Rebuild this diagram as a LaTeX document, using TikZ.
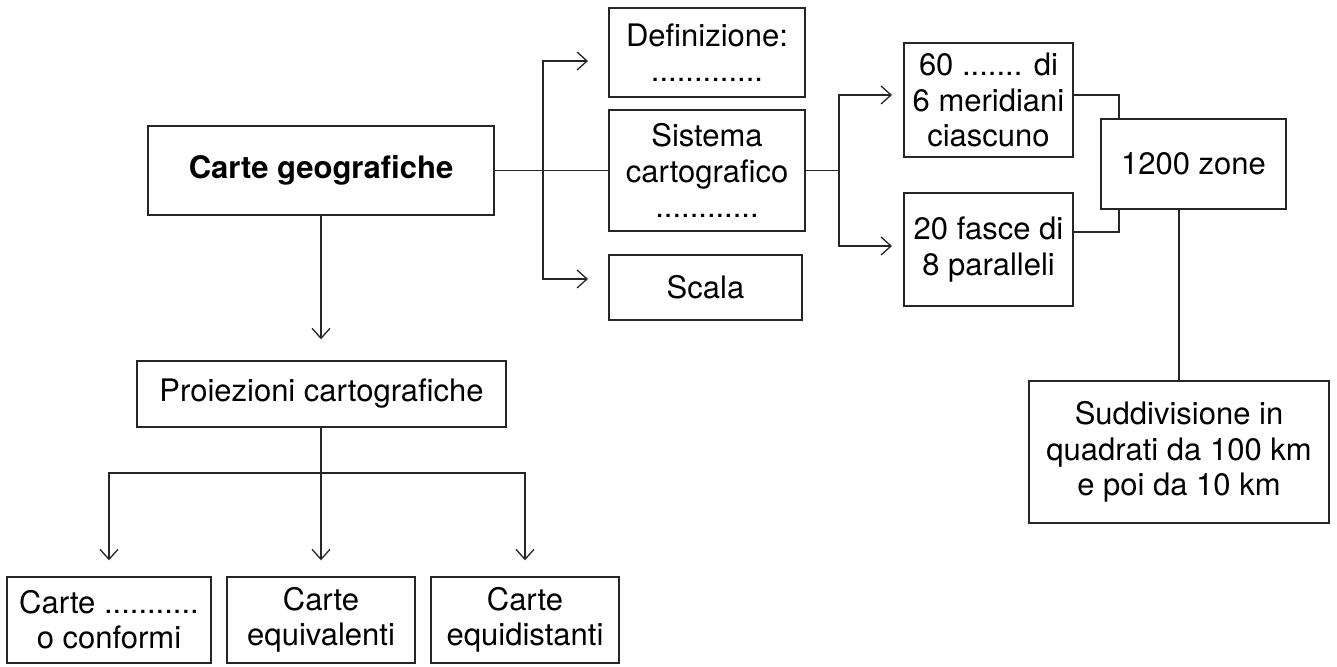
\documentclass[tikz,border=0pt]{standalone}
\usepackage{fontspec}
\setmainfont{TeX Gyre Heros}
\usepackage{tikz}
\usetikzlibrary{arrows.meta}

\begin{document}
\begin{tikzpicture}[x=0.5pt,y=-0.5pt,
		box/.style={shape=rectangle,draw=black!85,line width=0.7pt,inner sep=0pt,align=center,font=\fontsize{15.5}{17.6}\selectfont},
		link/.style={draw=black!85,line width=0.65pt},
		arr/.style={link,-{Straight Barb[length=5pt,width=9pt]}}]
		\useasboundingbox (0,0) rectangle (1337,667);
		% main box and the three things it is made of
		\node [box,minimum width=173pt,minimum height=44.5pt] (geo) at (321,170.5) {\bfseries Carte geografiche};
		\node [box,minimum width=98pt,minimum height=44.5pt] (defin) at (707,52.5) {Definizione:\\.............};
		\node [box,minimum width=98pt,minimum height=60.5pt] (sist) at (707,170.5) {Sistema\\cartografico\\............};
		\node [box,minimum width=96.5pt,minimum height=32.5pt] (scala) at (705.5,287.5) {Scala};
		\coordinate (j1) at (543,170.5);
		\coordinate (d-in) at (588,61);
		\coordinate (s-in) at (588,279);
		\draw [link] (geo) -- (sist);
		\draw [arr] (j1) |- (d-in);
		\draw [arr] (j1) |- (s-in);
		% grid of the cartographic system
		\node [box,minimum width=84.5pt,minimum height=57pt] (merid) at (988.5,100) {60 ....... di\\6 meridiani\\ciascuno};
		\node [box,minimum width=84.5pt,minimum height=56.5pt] (fasce) at (988.5,249.5) {20 fasce di\\8 paralleli};
		\node [box,minimum width=92.5pt,minimum height=45pt] (zone) at (1193.5,164) {1200 zone};
		\node [box,minimum width=150pt,minimum height=71pt] (sudd) at (1179,452) {Suddivisione in\\quadrati da 100 km\\e poi da 10 km};
		\coordinate (j2) at (839,170.5);
		\coordinate (m-in) at (892,95);
		\coordinate (f-in) at (892,246);
		\draw [link] (sist.east) -- (j2);
		\draw [arr] (j2) |- (m-in);
		\draw [arr] (j2) |- (f-in);
		\draw [link] (merid.east |- 0,95) -| (zone.north -| 1119,0);
		\draw [link] (fasce.east |- 0,232) -| (zone.south -| 1119,0);
		\draw [link] (zone.south -| sudd.north) -- (sudd.north);
		% projections
		\node [box,minimum width=184.5pt,minimum height=33pt] (proiez) at (321.5,394) {Proiezioni cartografiche};
		\node [box,minimum width=102pt,minimum height=43pt] (conf) at (109,620) {Carte ...........\\o conformi};
		\node [box,minimum width=94pt,minimum height=43pt] (equiv) at (321,620) {Carte\\equivalenti};
		\node [box,minimum width=94pt,minimum height=43pt] (equid) at (525,620) {Carte\\equidistanti};
		\coordinate (j3) at (321,473);
		\draw [arr,shorten >=10.5pt] (geo.south -| 321,0) -- (proiez.north -| 321,0);
		\draw [link] (proiez.south -| j3) -- (j3);
		\draw [arr,shorten >=8pt] (j3) -| (conf.north);
		\draw [arr,shorten >=8pt] (j3) -- (equiv.north);
		\draw [arr,shorten >=8pt] (j3) -| (equid.north);
	\end{tikzpicture}
\end{document}
